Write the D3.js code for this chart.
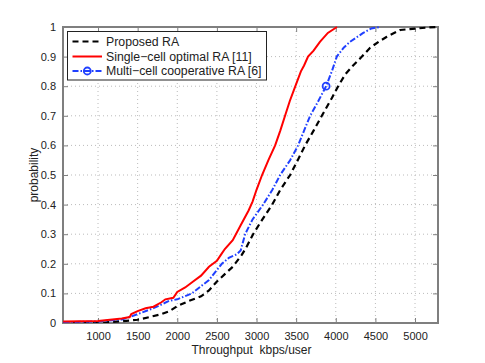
<!DOCTYPE html>
<html><head><meta charset="utf-8">
<script src="https://cdn.jsdelivr.net/npm/d3@7"></script>
<style>body{margin:0;background:#fff}svg{display:block}text{font-family:"Liberation Sans",Arial,sans-serif}</style>
</head><body><svg id="c" width="485" height="363"></svg>
<script>
const xTicks = [1000,1500,2000,2500,3000,3500,4000,4500,5000];
const yTicks = [0,0.1,0.2,0.3,0.4,0.5,0.6,0.7,0.8,0.9,1];
const seriesNames = ["Proposed RA","Single\u2212cell optimal RA [11]","Multi\u2212cell cooperative RA [6]"];
// Proposed RA (black dashed)
const proposedX = [560,900,1100,1300,1500,1650,1800,1900,2000,2150,2300,2400,2500,2600,2700,2814,2870,2957,3050,3197,3300,3424,3520,3613,3720,3824,3951,4030,4120,4219,4330,4433,4540,4644,4813,4900,5024,5150,5268];
const proposedY = [0,0,0.002,0.006,0.011,0.02,0.03,0.04,0.057,0.075,0.09,0.11,0.14,0.165,0.19,0.23,0.255,0.3,0.34,0.4,0.45,0.5,0.55,0.6,0.65,0.7,0.76,0.8,0.84,0.87,0.9,0.93,0.95,0.967,0.99,0.992,0.995,0.998,1];
// Single-cell optimal RA (red solid)
const singleX = [560,1000,1300,1400,1420,1500,1600,1700,1800,1850,1950,2000,2100,2200,2300,2400,2500,2550,2600,2700,2800,2900,2950,3000,3070,3150,3235,3300,3360,3420,3490,3560,3600,3650,3720,3800,3900,4015];
const singleY = [0.005,0.007,0.015,0.02,0.03,0.04,0.05,0.055,0.07,0.08,0.085,0.105,0.12,0.14,0.16,0.19,0.21,0.23,0.25,0.28,0.33,0.38,0.41,0.45,0.5,0.55,0.6,0.65,0.7,0.75,0.8,0.85,0.87,0.9,0.92,0.95,0.98,1];
// Multi-cell cooperative RA (blue dash-dot)
const multiX = [560,1000,1300,1400,1500,1700,1900,2000,2183,2400,2562,2650,2750,2800,2856,2950,3083,3200,3298,3424,3525,3600,3677,3780,3878,3950,4013,4100,4180,4346,4450,4560];
const multiY = [0.003,0.005,0.012,0.02,0.03,0.05,0.075,0.08,0.1,0.145,0.2,0.22,0.232,0.245,0.3,0.35,0.4,0.45,0.5,0.55,0.6,0.65,0.7,0.75,0.8,0.85,0.9,0.93,0.95,0.98,0.995,1];
const markerIdx = [24];

const svg = d3.select("#c");
const L=63,T=27,R=438,B=323;
const x = d3.scaleLinear().domain([558,5290]).range([L,R]);
const y = d3.scaleLinear().domain([0,1]).range([B,T]);
const axisCol="#7f7f7f";

// grid
const g = svg.append("g");
g.selectAll(".gx").data(xTicks).join("line").attr("x1",d=>x(d)).attr("x2",d=>x(d)).attr("y1",T).attr("y2",B)
 .attr("stroke","#bbb").attr("stroke-width",1).attr("stroke-dasharray","1,3");
g.selectAll(".gy").data(yTicks.filter(d=>d>0&&d<1)).join("line").attr("y1",d=>y(d)).attr("y2",d=>y(d)).attr("x1",L).attr("x2",R)
 .attr("stroke","#bbb").attr("stroke-width",1).attr("stroke-dasharray","1,3");

// axes with ticks
const ax = svg.append("g").attr("transform",`translate(0,${B})`).call(d3.axisBottom(x).tickValues(xTicks).tickFormat(d3.format("d")).tickSizeInner(-5).tickSizeOuter(0).tickPadding(9));
const ay = svg.append("g").attr("transform",`translate(${L},0)`).call(d3.axisLeft(y).tickValues(yTicks).tickFormat(d=>d===0?"0":d===1?"1":d3.format(".1f")(d)).tickSizeInner(-5).tickSizeOuter(0).tickPadding(7));
const axT = svg.append("g").attr("transform",`translate(0,${T})`).call(d3.axisTop(x).tickValues(xTicks).tickSizeInner(-5).tickSizeOuter(0).tickFormat(""));
const ayR = svg.append("g").attr("transform",`translate(${R},0)`).call(d3.axisRight(y).tickValues(yTicks).tickSizeInner(-5).tickSizeOuter(0).tickFormat(""));
[ax,ay,axT,ayR].forEach(a=>{a.select(".domain").remove();a.selectAll("line").attr("stroke",axisCol);a.selectAll("text").attr("fill","#222").style("font-size","11px").style("font-family","Liberation Sans, Arial, sans-serif");});
svg.append("rect").attr("x",L).attr("y",T).attr("width",R-L).attr("height",B-T).attr("fill","none").attr("stroke",axisCol).attr("stroke-width",2);

// clip
svg.append("clipPath").attr("id","cp").append("rect").attr("x",L).attr("y",T-2).attr("width",R-L).attr("height",B-T+2);
const line = d3.line().x(d=>x(d[0])).y(d=>y(d[1]));
const plot = svg.append("g").attr("clip-path","url(#cp)");
const zip=(a,b)=>a.map((v,i)=>[v,b[i]]);
plot.append("path").datum(zip(proposedX,proposedY)).attr("d",line).attr("fill","none").attr("stroke","#000").attr("stroke-width",2.2).attr("stroke-dasharray","6,4");
plot.append("path").datum(zip(multiX,multiY)).attr("d",line).attr("fill","none").attr("stroke","#2040ff").attr("stroke-width",2).attr("stroke-dasharray","6,2,1.5,2");
plot.append("path").datum(zip(singleX,singleY)).attr("d",line).attr("fill","none").attr("stroke","#ff0000").attr("stroke-width",2);
plot.selectAll(".mk").data(markerIdx).join("circle").attr("cx",i=>x(multiX[i])).attr("cy",i=>y(multiY[i])).attr("r",3.5)
 .attr("fill","none").attr("stroke","#2040ff").attr("stroke-width",1.8);

// labels
svg.append("text").attr("x",(L+R)/2+1).attr("y",354).attr("text-anchor","middle").style("font-size","12px").attr("fill","#222").attr("xml:space","preserve").text("Throughput  kbps/user");
svg.append("text").attr("transform",`translate(38,${(T+B)/2}) rotate(-90)`).attr("text-anchor","middle").style("font-size","12px").attr("fill","#222").text("probability");

// legend
const lg = svg.append("g");
lg.append("rect").attr("x",67.5).attr("y",31.5).attr("width",199).attr("height",48.5).attr("fill","#fff").attr("stroke","#222").attr("stroke-width",1);
const rows=[41.5,56.5,71];
const styles=[{c:"#000",d:"6,4",w:2.2},{c:"#ff0000",d:null,w:2},{c:"#2040ff",d:"6,2,1.5,2",w:2}];
seriesNames.forEach((n,i)=>{
  const ln=lg.append("line").attr("x1",72.5).attr("x2",102).attr("y1",rows[i]).attr("y2",rows[i]).attr("stroke",styles[i].c).attr("stroke-width",styles[i].w);
  if(styles[i].d) ln.attr("stroke-dasharray",styles[i].d);
  lg.append("text").attr("x",106).attr("y",rows[i]+4.3).style("font-size","12.3px").attr("fill","#222").text(n);
});
lg.append("circle").attr("cx",87.3).attr("cy",rows[2]).attr("r",3.5).attr("fill","none").attr("stroke","#2040ff").attr("stroke-width",1.8);
</script></body></html>
